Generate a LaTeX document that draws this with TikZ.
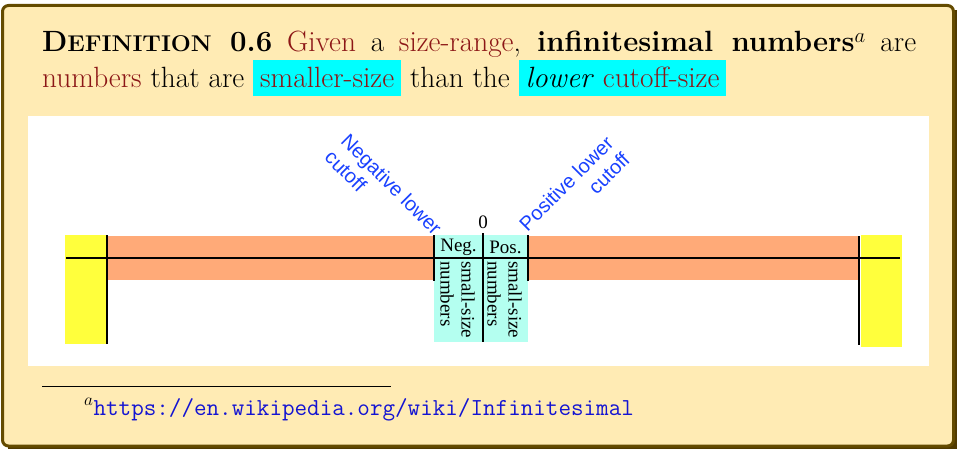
\documentclass[tikz,border=0pt]{standalone}
\usepackage{graphicx}
\usepackage{fontspec}
\newfontfamily\timesf{Liberation Serif}
\newfontfamily\arialf{Liberation Sans}
\definecolor{dred}{RGB}{140,22,22}
\definecolor{boxfill}{RGB}{255,235,180}
\definecolor{boxline}{RGB}{100,75,0}
\definecolor{boxshadow}{RGB}{80,58,0}
\definecolor{lblue}{RGB}{25,65,255}
\definecolor{urlblue}{RGB}{20,20,210}
\definecolor{orng}{RGB}{255,170,120}
\definecolor{ylw}{RGB}{255,255,60}
\definecolor{lcyan}{RGB}{180,255,240}
\definecolor{hcyan}{RGB}{0,255,255}
\newcommand{\hlc}[1]{{\setlength{\fboxsep}{0pt}\colorbox{hcyan}{\rule[-8pt]{0pt}{36pt}\hspace{7pt}#1\hspace{7pt}}}}
\newcommand{\defsc}{{\bfseries D\scalebox{1.04}[1]{\fontsize{22.8}{24}\selectfont EFINITION} 0.6}}
\tikzset{
  mainline/.style={anchor=base west, inner sep=0pt, font=\fontsize{29.3}{35}\selectfont},
  numtext/.style={inner sep=0pt, font=\timesf\fontsize{19}{21}\selectfont},
  cutlabel/.style={inner sep=0pt, text=lblue, font=\arialf\fontsize{20}{23}\selectfont},
  axis/.style={line width=2pt, black},
}
\begin{document}
\begin{tikzpicture}[x=1pt,y=-1pt]
\useasboundingbox (0,0) rectangle (957,449);
% outer box with shadow
\fill[boxshadow] (8,10) -- (957,10) -- (957,449) -- (8,449) -- cycle;
\draw[boxline, fill=boxfill, line width=3pt, rounded corners=6pt] (2.5,5.5) rectangle (953.5,446);
% heading
\node[mainline] (l1) at (42,52) {\makebox[874pt][s]{\defsc{} \textcolor{dred}{Given} a \textcolor{dred}{size-range}, \textbf{infinitesimal numbers}$^{a}$ are}};
\node[mainline] (l2) at (42,88) {\textcolor{dred}{numbers} that are \hlc{\textcolor{dred}{smaller-size}} than the \hlc{\textit{lower} \textcolor{dred}{cutoff-size}}};
% white panel
\fill[white] (28,116) rectangle (929,366);
% bars
\fill[orng] (108,236) rectangle (434,280);
\fill[orng] (528,236) rectangle (860,280);
\fill[ylw] (65,235) rectangle (107,344);
\fill[ylw] (861,235) rectangle (902,347);
\fill[lcyan] (434,235) rectangle (483,342);
\fill[lcyan] (483,235) rectangle (528,342);
% lines
\coordinate (hL) at (66,258);
\coordinate (hR) at (900,258);
\coordinate (vLt) at (107,235);
\coordinate (vLb) at (107,344);
\coordinate (vRt) at (859,236);
\coordinate (vRb) at (859,345);
\coordinate (nct) at (434,235);
\coordinate (ncb) at (434,281);
\coordinate (pct) at (528,235);
\coordinate (pcb) at (528,281);
\coordinate (zt) at (483,233);
\coordinate (zb) at (483,342);
\draw[axis] (hL) -- (hR);
\draw[axis] (vLt) -- (vLb);
\draw[axis] (vRt) -- (vRb);
\draw[axis] (nct) -- (ncb);
\draw[axis] (pct) -- (pcb);
\draw[axis] (zt) -- (zb);
% labels
\node[numtext] (zero) at (483,222) {0};
\node[numtext] (neg) at (458.5,247) {Neg.};
\node[numtext] (pos) at (505.5,247) {Pos.};
\node[numtext, rotate=-90, align=left, anchor=north west] (negs) at (475,261) {small-size\\numbers};
\node[numtext, rotate=-90, align=left, anchor=north west] (poss) at (522,261) {small-size\\numbers};
\node[cutlabel, rotate=-45, align=left, anchor=north east] (negcut) at (444,226) {Negative lower\\cutoff};
\node[cutlabel, rotate=45, align=right, anchor=north west] (poscut) at (517,222) {Positive lower\\cutoff};
% footnote
\coordinate (fnL) at (42,386);
\coordinate (fnR) at (391,386);
\draw[line width=0.8pt] (fnL) -- (fnR);
\node[anchor=base west, inner sep=0pt, font=\fontsize{24.4}{28}\selectfont] (fn) at (84,415) {$^{a}$\textcolor{urlblue}{\ttfamily https://en.wikipedia.org/wiki/Infinitesimal}};
\end{tikzpicture}
\end{document}
